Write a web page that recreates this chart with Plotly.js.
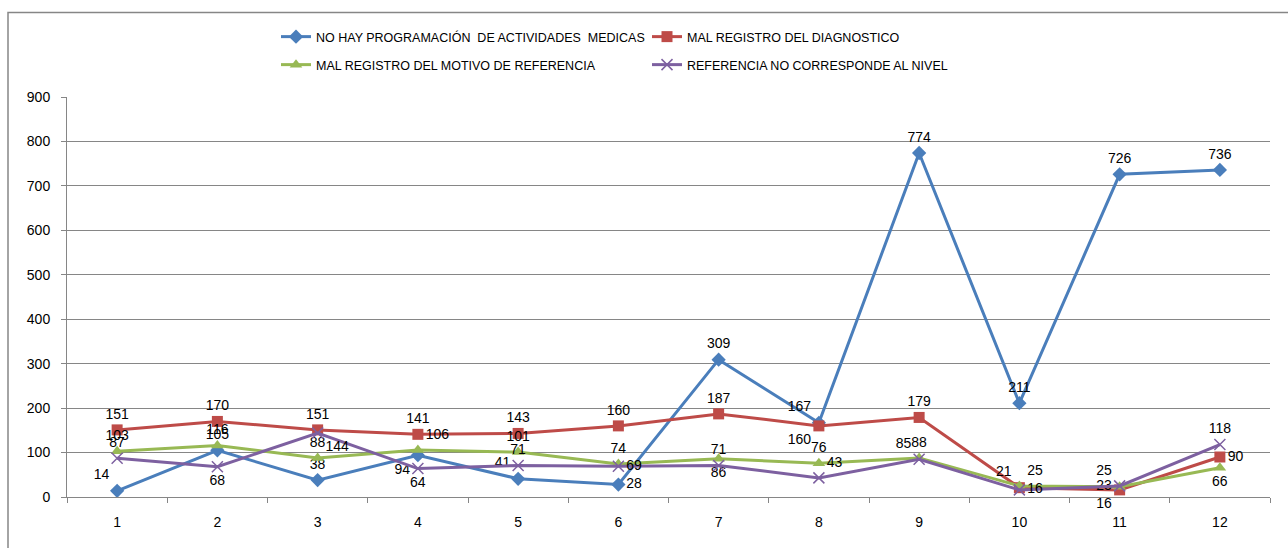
<!DOCTYPE html>
<html>
<head>
<meta charset="utf-8">
<script src="https://cdn.plot.ly/plotly-3.0.1.min.js"></script>
<style>html,body{margin:0;padding:0;background:#fff;}#chart{width:1288px;height:548px;}</style>
</head>
<body>
<div id="chart"></div>
<script>
const categories = [1, 2, 3, 4, 5, 6, 7, 8, 9, 10, 11, 12];
const seriesNames = [
  "NO HAY PROGRAMACIÓN  DE ACTIVIDADES  MEDICAS",
  "MAL REGISTRO DEL DIAGNOSTICO",
  "MAL REGISTRO DEL MOTIVO DE REFERENCIA",
  "REFERENCIA NO CORRESPONDE AL NIVEL"
];
const noHayProgramacion = [14, 105, 38, 94, 41, 28, 309, 167, 774, 211, 726, 736];
const malRegistroDiagnostico = [151, 170, 151, 141, 143, 160, 187, 160, 179, 21, 16, 90];
const malRegistroMotivo = [103, 116, 88, 106, 101, 74, 86, 76, 88, 25, 23, 66];
const referenciaNoCorresponde = [87, 68, 144, 64, 71, 69, 71, 43, 85, 16, 25, 118];
const yTicks = [0, 100, 200, 300, 400, 500, 600, 700, 800, 900];

const posBlue = ["top left","top center","top center","bottom left","top left","middle right","top center","top left","top center","top center","top center","top center"];
const posRed = ["top center","top center","top center","top center","top center","top center","top center","bottom left","top center","top left","bottom left","middle right"];
const posGreen = ["top center","top center","top center","top right","top center","top center","bottom center","top center","top center","top right","middle left","bottom center"];
const posPurple = ["top center","bottom center","bottom right","bottom center","top center","middle right","top center","top right","top left","middle right","top left","top center"];

const FONT = "Liberation Sans, Arial, sans-serif";
const labelFont = {family: FONT, size: 14, color: "#000"};

function mk(name, y, color, symbol, size, pos, legend, extraMarker) {
  return {
    type: "scatter", mode: "lines+markers+text",
    name: name, x: categories, y: y,
    text: y.map(String), textposition: pos, textfont: labelFont,
    line: {color: color, width: 3},
    marker: Object.assign({symbol: symbol, size: size, color: color}, extraMarker || {}),
    legend: legend, cliponaxis: false
  };
}

const data = [
  mk(seriesNames[0], noHayProgramacion, "#4A7EBB", "diamond", 11, posBlue, "legend"),
  mk(seriesNames[1], malRegistroDiagnostico, "#BE4B48", "square", 11, posRed, "legend"),
  mk(seriesNames[2], malRegistroMotivo, "#98B954", "triangle-up", 11, posGreen, "legend2"),
  mk(seriesNames[3], referenciaNoCorresponde, "#7D60A0", "x-thin-open", 11, posPurple, "legend2", {line: {color: "#7D60A0", width: 1.5}})
];

const legendBase = {
  orientation: "h", xref: "paper", yref: "container", xanchor: "left", yanchor: "middle",
  font: {family: FONT, size: 12.5, color: "#000"},
  entrywidth: 326, entrywidthmode: "pixels", itemwidth: 30,
  bgcolor: "rgba(0,0,0,0)", traceorder: "normal"
};

const layout = {
  width: 1288, height: 548,
  margin: {l: 67, r: 18, t: 97, b: 51},
  paper_bgcolor: "#fff", plot_bgcolor: "#fff",
  showlegend: true,
  legend: Object.assign({}, legendBase, {x: (276 - 67) / 1203, y: 1 - 37 / 548}),
  legend2: Object.assign({}, legendBase, {x: (276 - 67) / 1203, y: 1 - 65 / 548}),
  xaxis: {
    range: [0.5, 12.5], tickvals: categories, ticktext: categories.map(String),
    showgrid: false, zeroline: false, showline: true, linecolor: "#868686", linewidth: 1,
    ticks: "", ticklabelstandoff: 12,
    minor: {ticks: "outside", tick0: 0.5, dtick: 1, ticklen: 5, tickcolor: "#868686", showgrid: false},
    tickfont: {family: FONT, size: 14, color: "#000"}, fixedrange: true
  },
  yaxis: {
    range: [0, 900], tickvals: yTicks, ticktext: yTicks.map(String),
    showgrid: true, gridcolor: "#868686", gridwidth: 1,
    zeroline: false, showline: true, linecolor: "#868686", linewidth: 1,
    ticks: "outside", ticklen: 5, tickcolor: "#868686", ticklabelstandoff: 8,
    tickfont: {family: FONT, size: 14, color: "#000"}, fixedrange: true
  },
  shapes: [{
    type: "rect", xref: "paper", yref: "paper", layer: "below",
    x0: (8 - 67) / 1203, x1: (1300 - 67) / 1203,
    y0: 1 - (555 - 97) / 400, y1: 1 + (97 - 12.5) / 400,
    line: {color: "#868686", width: 1.5}, fillcolor: "rgba(0,0,0,0)"
  }]
};

Plotly.newPlot("chart", data, layout, {displayModeBar: false, staticPlot: true});
</script>
</body>
</html>
